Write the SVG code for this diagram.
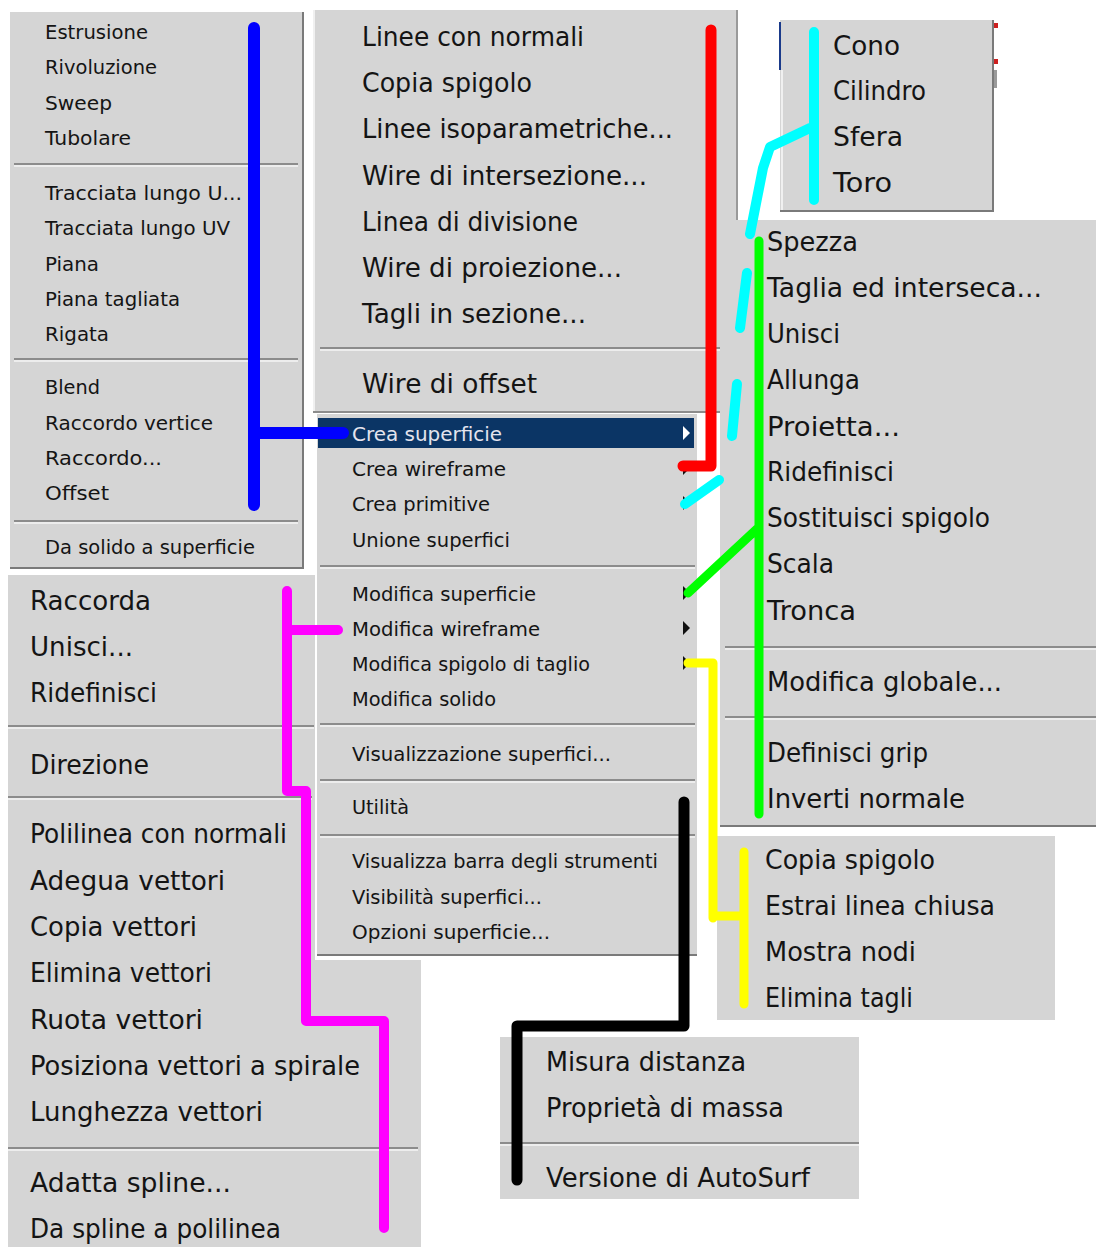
<svg xmlns="http://www.w3.org/2000/svg" width="1096" height="1247" viewBox="0 0 1096 1247">
<style>
.pn{fill:#d5d5d5}
.t{font-family:"DejaVu Sans","Liberation Sans",sans-serif;fill:#141414}
.s{font-size:19px}
.l{font-size:26px}
.sd{stroke:#8c8c8c;stroke-width:2}
.sl{stroke:#f4f4f4;stroke-width:1.5}
.bd{stroke:#7a7a7a;stroke-width:2;fill:none}
.ar{fill:#111}
.c{fill:none;stroke-linecap:round;stroke-linejoin:round}
</style>
<rect width="1096" height="1247" fill="#ffffff"/>

<g id="menu-superfici">
<rect class="pn" x="10" y="12" width="293" height="556"/>
<path class="bd" d="M303,12 V568 H10"/>
<line class="sd" x1="14" y1="164" x2="298" y2="164"/><line class="sl" x1="14" y1="166" x2="298" y2="166"/>
<line class="sd" x1="14" y1="359" x2="298" y2="359"/><line class="sl" x1="14" y1="361" x2="298" y2="361"/>
<line class="sd" x1="14" y1="521" x2="298" y2="521"/><line class="sl" x1="14" y1="523" x2="298" y2="523"/>
<text class="t s" x="45" y="39" textLength="103" lengthAdjust="spacingAndGlyphs">Estrusione</text>
<text class="t s" x="45" y="74" textLength="112" lengthAdjust="spacingAndGlyphs">Rivoluzione</text>
<text class="t s" x="45" y="110" textLength="67" lengthAdjust="spacingAndGlyphs">Sweep</text>
<text class="t s" x="45" y="145" textLength="86" lengthAdjust="spacingAndGlyphs">Tubolare</text>
<text class="t s" x="45" y="200" textLength="197" lengthAdjust="spacingAndGlyphs">Tracciata lungo U...</text>
<text class="t s" x="45" y="235" textLength="185" lengthAdjust="spacingAndGlyphs">Tracciata lungo UV</text>
<text class="t s" x="45" y="271" textLength="54" lengthAdjust="spacingAndGlyphs">Piana</text>
<text class="t s" x="45" y="306" textLength="135" lengthAdjust="spacingAndGlyphs">Piana tagliata</text>
<text class="t s" x="45" y="341" textLength="64" lengthAdjust="spacingAndGlyphs">Rigata</text>
<text class="t s" x="45" y="394" textLength="55" lengthAdjust="spacingAndGlyphs">Blend</text>
<text class="t s" x="45" y="430" textLength="168" lengthAdjust="spacingAndGlyphs">Raccordo vertice</text>
<text class="t s" x="45" y="465" textLength="117" lengthAdjust="spacingAndGlyphs">Raccordo...</text>
<text class="t s" x="45" y="500" textLength="64" lengthAdjust="spacingAndGlyphs">Offset</text>
<text class="t s" x="45" y="554" textLength="210" lengthAdjust="spacingAndGlyphs">Da solido a superficie</text>
</g>

<g id="menu-wireframe">
<rect class="pn" x="313" y="10" width="425" height="403"/>
<line x1="314" y1="10" x2="314" y2="413" stroke="#f0f0f0" stroke-width="2"/>
<line x1="737" y1="10" x2="737" y2="222" stroke="#9a9a9a" stroke-width="2"/>
<line x1="313" y1="412" x2="720" y2="412" stroke="#8c8c8c" stroke-width="2"/>
<line class="sd" x1="320" y1="348" x2="732" y2="348"/><line class="sl" x1="320" y1="350" x2="732" y2="350"/>
<text class="t l" x="362" y="46" textLength="222" lengthAdjust="spacingAndGlyphs">Linee con normali</text>
<text class="t l" x="362" y="92" textLength="170" lengthAdjust="spacingAndGlyphs">Copia spigolo</text>
<text class="t l" x="362" y="138" textLength="311" lengthAdjust="spacingAndGlyphs">Linee isoparametriche...</text>
<text class="t l" x="362" y="185" textLength="285" lengthAdjust="spacingAndGlyphs">Wire di intersezione...</text>
<text class="t l" x="362" y="231" textLength="216" lengthAdjust="spacingAndGlyphs">Linea di divisione</text>
<text class="t l" x="362" y="277" textLength="260" lengthAdjust="spacingAndGlyphs">Wire di proiezione...</text>
<text class="t l" x="362" y="323" textLength="224" lengthAdjust="spacingAndGlyphs">Tagli in sezione...</text>
<text class="t l" x="362" y="393" textLength="175" lengthAdjust="spacingAndGlyphs">Wire di offset</text>
</g>

<g id="menu-modifica-superficie">
<rect class="pn" x="720" y="220" width="376" height="606"/>
<line x1="720" y1="826" x2="1096" y2="826" stroke="#7a7a7a" stroke-width="2"/>
<line class="sd" x1="725" y1="647" x2="1096" y2="647"/><line class="sl" x1="725" y1="649" x2="1096" y2="649"/>
<line class="sd" x1="725" y1="717" x2="1096" y2="717"/><line class="sl" x1="725" y1="719" x2="1096" y2="719"/>
<text class="t l" x="767" y="251" textLength="91" lengthAdjust="spacingAndGlyphs">Spezza</text>
<text class="t l" x="767" y="297" textLength="275" lengthAdjust="spacingAndGlyphs">Taglia ed interseca...</text>
<text class="t l" x="767" y="343" textLength="73" lengthAdjust="spacingAndGlyphs">Unisci</text>
<text class="t l" x="767" y="389" textLength="93" lengthAdjust="spacingAndGlyphs">Allunga</text>
<text class="t l" x="767" y="436" textLength="133" lengthAdjust="spacingAndGlyphs">Proietta...</text>
<text class="t l" x="767" y="481" textLength="127" lengthAdjust="spacingAndGlyphs">Ridefinisci</text>
<text class="t l" x="767" y="527" textLength="223" lengthAdjust="spacingAndGlyphs">Sostituisci spigolo</text>
<text class="t l" x="767" y="573" textLength="67" lengthAdjust="spacingAndGlyphs">Scala</text>
<text class="t l" x="767" y="620" textLength="89" lengthAdjust="spacingAndGlyphs">Tronca</text>
<text class="t l" x="767" y="691" textLength="235" lengthAdjust="spacingAndGlyphs">Modifica globale...</text>
<text class="t l" x="767" y="762" textLength="161" lengthAdjust="spacingAndGlyphs">Definisci grip</text>
<text class="t l" x="767" y="808" textLength="198" lengthAdjust="spacingAndGlyphs">Inverti normale</text>
</g>

<g id="menu-primitive">
<rect class="pn" x="780" y="20" width="213" height="190"/>
<line x1="780" y1="22" x2="780" y2="70" stroke="#1a3a8a" stroke-width="2"/>
<line x1="782" y1="70" x2="782" y2="210" stroke="#f0f0f0" stroke-width="2"/>
<path class="bd" d="M993,20 V211 H780"/>
<rect x="994" y="23" width="4" height="5" fill="#cc2020"/>
<rect x="994" y="59" width="4" height="5" fill="#cc2020"/>
<rect x="994" y="70" width="3" height="18" fill="#9a9a9a"/>
<text class="t l" x="833" y="55" textLength="67" lengthAdjust="spacingAndGlyphs">Cono</text>
<text class="t l" x="833" y="100" textLength="93" lengthAdjust="spacingAndGlyphs">Cilindro</text>
<text class="t l" x="833" y="146" textLength="70" lengthAdjust="spacingAndGlyphs">Sfera</text>
<text class="t l" x="833" y="192" textLength="59" lengthAdjust="spacingAndGlyphs">Toro</text>
</g>

<g id="menu-modifica-wireframe">
<polygon class="pn" points="8,575 315,575 315,960 421,960 421,1247 8,1247"/>
<line class="sd" x1="8" y1="726" x2="314" y2="726"/><line class="sl" x1="8" y1="728" x2="314" y2="728"/>
<line class="sd" x1="8" y1="797" x2="312" y2="797"/><line class="sl" x1="8" y1="799" x2="312" y2="799"/>
<line class="sd" x1="8" y1="1148" x2="418" y2="1148"/><line class="sl" x1="8" y1="1150" x2="418" y2="1150"/>
<text class="t l" x="30" y="610" textLength="121" lengthAdjust="spacingAndGlyphs">Raccorda</text>
<text class="t l" x="30" y="656" textLength="103" lengthAdjust="spacingAndGlyphs">Unisci...</text>
<text class="t l" x="30" y="702" textLength="127" lengthAdjust="spacingAndGlyphs">Ridefinisci</text>
<text class="t l" x="30" y="774" textLength="119" lengthAdjust="spacingAndGlyphs">Direzione</text>
<text class="t l" x="30" y="843" textLength="257" lengthAdjust="spacingAndGlyphs">Polilinea con normali</text>
<text class="t l" x="30" y="890" textLength="195" lengthAdjust="spacingAndGlyphs">Adegua vettori</text>
<text class="t l" x="30" y="936" textLength="167" lengthAdjust="spacingAndGlyphs">Copia vettori</text>
<text class="t l" x="30" y="982" textLength="182" lengthAdjust="spacingAndGlyphs">Elimina vettori</text>
<text class="t l" x="30" y="1029" textLength="173" lengthAdjust="spacingAndGlyphs">Ruota vettori</text>
<text class="t l" x="30" y="1075" textLength="330" lengthAdjust="spacingAndGlyphs">Posiziona vettori a spirale</text>
<text class="t l" x="30" y="1121" textLength="233" lengthAdjust="spacingAndGlyphs">Lunghezza vettori</text>
<text class="t l" x="30" y="1192" textLength="201" lengthAdjust="spacingAndGlyphs">Adatta spline...</text>
<text class="t l" x="30" y="1238" textLength="251" lengthAdjust="spacingAndGlyphs">Da spline a polilinea</text>
</g>

<g id="menu-principale">
<rect class="pn" x="317" y="414" width="380" height="541"/>
<line x1="317" y1="955" x2="697" y2="955" stroke="#7a7a7a" stroke-width="2"/>
<rect x="318" y="418" width="376" height="30" fill="#0b3565"/>
<line class="sd" x1="320" y1="566" x2="695" y2="566"/><line class="sl" x1="320" y1="568" x2="695" y2="568"/>
<line class="sd" x1="320" y1="724" x2="695" y2="724"/><line class="sl" x1="320" y1="726" x2="695" y2="726"/>
<line class="sd" x1="320" y1="780" x2="695" y2="780"/><line class="sl" x1="320" y1="782" x2="695" y2="782"/>
<line class="sd" x1="320" y1="835" x2="695" y2="835"/><line class="sl" x1="320" y1="837" x2="695" y2="837"/>
<text class="t s" x="352" y="441" style="fill:#e4e4ee" textLength="150" lengthAdjust="spacingAndGlyphs">Crea superficie</text>
<text class="t s" x="352" y="476" textLength="154" lengthAdjust="spacingAndGlyphs">Crea wireframe</text>
<text class="t s" x="352" y="511" textLength="138" lengthAdjust="spacingAndGlyphs">Crea primitive</text>
<text class="t s" x="352" y="547" textLength="158" lengthAdjust="spacingAndGlyphs">Unione superfici</text>
<text class="t s" x="352" y="601" textLength="184" lengthAdjust="spacingAndGlyphs">Modifica superficie</text>
<text class="t s" x="352" y="636" textLength="188" lengthAdjust="spacingAndGlyphs">Modifica wireframe</text>
<text class="t s" x="352" y="671" textLength="238" lengthAdjust="spacingAndGlyphs">Modifica spigolo di taglio</text>
<text class="t s" x="352" y="706" textLength="144" lengthAdjust="spacingAndGlyphs">Modifica solido</text>
<text class="t s" x="352" y="761" textLength="259" lengthAdjust="spacingAndGlyphs">Visualizzazione superfici...</text>
<text class="t s" x="352" y="814" textLength="57" lengthAdjust="spacingAndGlyphs">Utilità</text>
<text class="t s" x="352" y="868" textLength="306" lengthAdjust="spacingAndGlyphs">Visualizza barra degli strumenti</text>
<text class="t s" x="352" y="904" textLength="190" lengthAdjust="spacingAndGlyphs">Visibilità superfici...</text>
<text class="t s" x="352" y="939" textLength="198" lengthAdjust="spacingAndGlyphs">Opzioni superficie...</text>
<polygon points="683,426 683,440 690,433" fill="#ffffff"/>
<polygon class="ar" points="683,461 683,475 690,468"/>
<polygon class="ar" points="683,496 683,510 690,503"/>
<polygon class="ar" points="683,586 683,600 690,593"/>
<polygon class="ar" points="683,621 683,635 690,628"/>
<polygon class="ar" points="683,656 683,670 690,663"/>
</g>

<g id="menu-spigolo-taglio">
<rect class="pn" x="717" y="836" width="338" height="184"/>
<text class="t l" x="765" y="869" textLength="170" lengthAdjust="spacingAndGlyphs">Copia spigolo</text>
<text class="t l" x="765" y="915" textLength="230" lengthAdjust="spacingAndGlyphs">Estrai linea chiusa</text>
<text class="t l" x="765" y="961" textLength="151" lengthAdjust="spacingAndGlyphs">Mostra nodi</text>
<text class="t l" x="765" y="1007" textLength="148" lengthAdjust="spacingAndGlyphs">Elimina tagli</text>
</g>

<g id="menu-utilita">
<rect class="pn" x="500" y="1037" width="359" height="162"/>
<line class="sd" x1="500" y1="1143" x2="859" y2="1143"/><line class="sl" x1="500" y1="1145" x2="859" y2="1145"/>
<text class="t l" x="546" y="1071" textLength="200" lengthAdjust="spacingAndGlyphs">Misura distanza</text>
<text class="t l" x="546" y="1117" textLength="238" lengthAdjust="spacingAndGlyphs">Proprietà di massa</text>
<text class="t l" x="546" y="1187" textLength="264" lengthAdjust="spacingAndGlyphs">Versione di AutoSurf</text>
</g>

<g id="connectors">
<path class="c" stroke="#0000ff" stroke-width="12" d="M254,28 V505 M254,433 H343"/>
<path class="c" stroke="#ff0000" stroke-width="11" d="M711,30 V466 H683"/>
<path class="c" stroke="#00ffff" stroke-width="10" d="M814,32 V200 M810,128 L770,147 L763,168 L750,234 M747,273 L740,328 M737,384 L732,436 M719,480 L685,504"/>
<path class="c" stroke="#00ff00" stroke-width="9" d="M759,241 V814 M759,527 L688,593"/>
<path class="c" stroke="#ffff00" stroke-width="9" d="M688,663 H713 V918 M713,916 H744 M744,852 V1004"/>
<path class="c" stroke="#ff00ff" stroke-width="10" d="M287,591 V791 H306 V1021 H384 V1228 M287,630 H338"/>
<path class="c" stroke="#000000" stroke-width="11" d="M684,802 V1026 H517 V1180"/>
</g>
</svg>
